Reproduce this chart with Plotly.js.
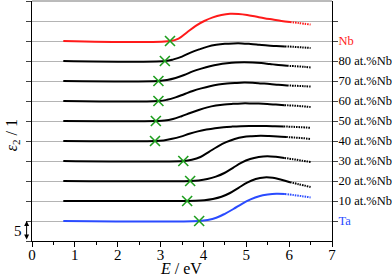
<!DOCTYPE html>
<html>
<head>
<meta charset="utf-8">
<script src="https://cdn.plot.ly/plotly-3.0.1.min.js"></script>
<style>html,body{margin:0;padding:0;background:#fff;}#chart{width:392px;height:278px;}</style>
</head>
<body>
<div id="chart"></div>
<script>
// Series labels (bottom to top), vertical offsets, colours
const labels = ['Ta', '10 at.%Nb', '20 at.%Nb', '30 at.%Nb', '40 at.%Nb', '50 at.%Nb', '60 at.%Nb', '70 at.%Nb', '80 at.%Nb', 'Nb'];
const offsets = [5, 10, 15, 20, 25, 30, 35, 40, 45, 50];
const colors = ['#2a4bff', '#000', '#000', '#000', '#000', '#000', '#000', '#000', '#000', '#ff1a1a'];
// Onset (green crosses), eV
const onsetE = [3.90, 3.62, 3.69, 3.53, 2.87, 2.89, 2.95, 2.95, 3.10, 3.22];

// ε2 data (relative to each offset)
const E_Ta  = [0.73, 3.90, 4.1, 4.3, 4.5, 4.7, 4.9, 5.1, 5.3, 5.5, 5.7, 5.9, 6.1, 6.3, 6.5];
const e2_Ta = [0, 0, 0.25, 0.8, 1.8, 3.0, 4.3, 5.4, 6.2, 6.6, 6.8, 6.75, 6.5, 6.2, 5.9];
const E_10  = [0.73, 3.62, 3.82, 4.02, 4.22, 4.42, 4.62, 4.82, 5.02, 5.22, 5.42, 5.62, 5.82, 6.02, 6.22, 6.5];
const e2_10 = [0, 0, 0.05, 0.2, 0.5, 1.05, 2.0, 3.3, 4.6, 5.5, 5.9, 5.8, 5.3, 4.7, 4.2, 3.5];
const E_20  = [0.73, 3.69, 3.89, 4.09, 4.29, 4.49, 4.69, 4.89, 5.09, 5.29, 5.49, 5.69, 5.89, 6.09, 6.29, 6.5];
const e2_20 = [0, 0, 0.15, 0.5, 1.1, 2.0, 3.3, 4.6, 5.5, 6.0, 6.2, 6.05, 5.75, 5.45, 5.1, 4.75];
const E_30  = [0.73, 3.53, 3.73, 3.93, 4.13, 4.33, 4.53, 4.73, 4.93, 5.13, 5.33, 5.53, 5.73, 5.93, 6.13, 6.33, 6.5];
const e2_30 = [0, 0, 0.3, 1.0, 2.3, 3.6, 4.7, 5.5, 6.0, 6.2, 6.3, 6.25, 6.15, 6.0, 5.85, 5.7, 5.5];
const E_40  = [0.73, 2.87, 3.07, 3.27, 3.47, 3.67, 3.87, 4.07, 4.27, 4.47, 4.67, 4.87, 5.07, 5.27, 5.47, 5.67, 5.87, 6.07, 6.27, 6.5];
const e2_40 = [0, 0, 0.15, 0.55, 1.1, 1.8, 2.4, 2.85, 3.2, 3.45, 3.6, 3.7, 3.75, 3.75, 3.75, 3.7, 3.65, 3.55, 3.45, 3.3];
const E_50  = [0.73, 2.89, 3.09, 3.29, 3.49, 3.69, 3.89, 4.09, 4.29, 4.49, 4.69, 4.89, 5.09, 5.29, 5.49, 5.69, 5.89, 6.09, 6.29, 6.5];
const e2_50 = [0, 0, 0.1, 0.5, 1.2, 2.0, 2.75, 3.4, 3.85, 4.15, 4.3, 4.4, 4.4, 4.35, 4.25, 4.1, 3.95, 3.85, 3.7, 3.5];
const E_60  = [0.73, 2.95, 3.15, 3.35, 3.55, 3.75, 3.95, 4.15, 4.35, 4.55, 4.75, 4.95, 5.15, 5.35, 5.55, 5.75, 5.95, 6.15, 6.35, 6.5];
const e2_60 = [0, 0, 0.3, 0.9, 1.7, 2.5, 3.15, 3.7, 4.1, 4.35, 4.5, 4.6, 4.55, 4.4, 4.25, 4.05, 3.9, 3.8, 3.7, 3.6];
const E_70  = [0.73, 2.95, 3.15, 3.35, 3.55, 3.75, 3.95, 4.15, 4.35, 4.55, 4.75, 4.95, 5.15, 5.35, 5.55, 5.75, 5.95, 6.15, 6.35, 6.5];
const e2_70 = [0, 0, 0.25, 0.75, 1.5, 2.4, 3.1, 3.7, 4.15, 4.45, 4.65, 4.7, 4.65, 4.5, 4.25, 4.0, 3.8, 3.7, 3.55, 3.4];
const E_80  = [0.73, 3.10, 3.3, 3.5, 3.7, 3.9, 4.1, 4.3, 4.5, 4.7, 4.9, 5.1, 5.3, 5.5, 5.7, 5.9, 6.1, 6.3, 6.5];
const e2_80 = [0, 0, 0.4, 1.1, 2.1, 2.9, 3.6, 4.05, 4.3, 4.4, 4.4, 4.25, 4.05, 3.85, 3.75, 3.65, 3.55, 3.4, 3.25];
const E_Nb  = [0.73, 3.22, 3.42, 3.62, 3.82, 4.02, 4.22, 4.42, 4.62, 4.82, 5.02, 5.22, 5.42, 5.62, 5.82, 6.02, 6.22, 6.5];
const e2_Nb = [0, 0, 0.6, 2.2, 3.8, 5.0, 5.9, 6.5, 6.8, 6.75, 6.5, 6.1, 5.7, 5.35, 5.0, 4.75, 4.5, 4.1];

const Es = [E_Ta, E_10, E_20, E_30, E_40, E_50, E_60, E_70, E_80, E_Nb];
const e2s = [e2_Ta, e2_10, e2_20, e2_30, e2_40, e2_50, e2_60, e2_70, e2_80, e2_Nb];

const splitE = 5.85;
const traces = [];
for (let i = 0; i < labels.length; i++) {
  const E = Es[i], v = e2s[i].map(d => d + offsets[i]);
  let k = 0;
  while (k < E.length && E[k] <= splitE) k++;
  traces.push({x: E.slice(0, k + 1), y: v.slice(0, k + 1), mode: 'lines', type: 'scatter',
    line: {color: colors[i], width: 2, shape: 'spline', smoothing: 1}, hoverinfo: 'skip', showlegend: false});
  traces.push({x: E.slice(k), y: v.slice(k), mode: 'lines', type: 'scatter',
    line: {color: colors[i], width: 2, shape: 'spline', smoothing: 1, dash: '1.5px,1px'}, hoverinfo: 'skip', showlegend: false});
}
traces.push({x: onsetE, y: offsets, mode: 'markers', type: 'scatter',
  marker: {symbol: 'x-thin-open', size: 10, line: {color: '#1f9e1f', width: 1.6}, color: '#1f9e1f'},
  hoverinfo: 'skip', showlegend: false});
// dummy traces for the secondary axes
traces.push({x: [0], y: [0], yaxis: 'y2', mode: 'markers', marker: {opacity: 0}, hoverinfo: 'skip', showlegend: false});
traces.push({x: [0], y: [0], xaxis: 'x2', mode: 'markers', marker: {opacity: 0}, hoverinfo: 'skip', showlegend: false});

const rightVals = offsets.concat([55]);
const rightText = labels.map((l, i) => i === 0 ? '<span style="color:#2a4bff">' + l + '</span>' :
  (i === labels.length - 1 ? '<span style="color:#ff1a1a">' + l + '</span>' : l)).concat(['']);

const serif = 'Liberation Serif, Times New Roman, serif';
const layout = {
  width: 392, height: 278,
  margin: {l: 32, r: 60, t: 1, b: 37},
  paper_bgcolor: '#fff', plot_bgcolor: '#fff',
  font: {family: serif, color: '#000'},
  xaxis: {
    range: [0, 7], dtick: 1, tick0: 0, ticks: '',
    showline: true, linecolor: '#000', linewidth: 1, showgrid: false, zeroline: false,
    tickfont: {family: serif, size: 15}, fixedrange: true
  },
  xaxis2: {
    range: [0, 7], overlaying: 'x', anchor: 'y', side: 'bottom', dtick: 1, tick0: 0,
    ticks: 'outside', ticklen: 5, tickwidth: 1, tickcolor: '#000', showticklabels: false,
    showline: false, showgrid: false, zeroline: false, fixedrange: true,
    minor: {dtick: 0.5, ticks: 'outside', ticklen: 3, tickcolor: '#000', showgrid: false}
  },
  yaxis: {
    range: [0, 60], dtick: 5, tick0: 0, ticks: 'outside', ticklen: 5, tickwidth: 1,
    showticklabels: false, showline: true, linecolor: '#000', linewidth: 1,
    showgrid: true, gridcolor: '#b4b4b4', gridwidth: 1, zeroline: false, fixedrange: true
  },
  yaxis2: {
    range: [0, 60], overlaying: 'y', side: 'right', tickmode: 'array',
    tickvals: rightVals, ticktext: rightText, ticks: 'outside', ticklen: 5, tickwidth: 1,
    showline: true, linecolor: '#000', linewidth: 1, showgrid: false, zeroline: false,
    tickfont: {family: serif, size: 12.5}, fixedrange: true, ticklabelstandoff: -2
  },
  shapes: [
    {type: 'line', xref: 'paper', yref: 'paper', x0: 0, x1: 1, y0: 1, y1: 1, line: {color: '#777', width: 1}}
  ],
  annotations: [
    {xref: 'paper', yref: 'paper', x: 0.495, y: -0.113, text: '<i>E</i> / eV', showarrow: false,
      font: {family: serif, size: 16}, xanchor: 'center', yanchor: 'middle'},
    {xref: 'paper', yref: 'paper', x: -0.067, y: 0.44, text: '<i>ε</i><sub>2</sub> / 1', textangle: -90,
      showarrow: false, font: {family: serif, size: 16}, xanchor: 'center', yanchor: 'middle'},
    {xref: 'paper', yref: 'y', x: -0.018, y: 5, ax: 0, ay: 20, text: '', showarrow: true,
      arrowside: 'end+start', arrowhead: 2, arrowsize: 1, arrowwidth: 1, arrowcolor: '#000', standoff: 0, startstandoff: 0},
    {xref: 'paper', yref: 'y', x: -0.047, y: 2.5, text: '5', showarrow: false,
      font: {family: serif, size: 15}, xanchor: 'center', yanchor: 'middle'}
  ]
};

Plotly.newPlot('chart', traces, layout, {staticPlot: true, displayModeBar: false});
</script>
</body>
</html>
